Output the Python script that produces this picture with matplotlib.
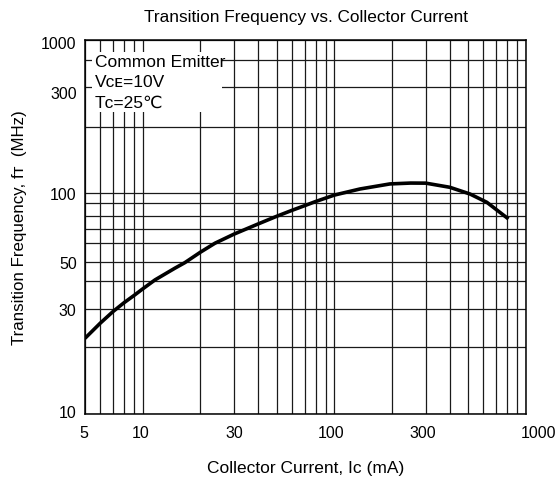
import numpy as np
import matplotlib
matplotlib.use("Agg")
import matplotlib.pyplot as plt
from matplotlib.patches import Rectangle
from matplotlib.ticker import FixedLocator, NullFormatter
from matplotlib.transforms import ScaledTranslation

plt.rcParams['font.family'] = ['Liberation Sans', 'DejaVu Sans']

# Collector current (mA) and transition frequency (MHz).
ic = [5, 6, 7, 8, 9, 10, 11.6, 14.75, 16.6, 20, 23.85, 30, 40, 50, 60, 70,
      80, 100, 136, 195, 250, 300, 400, 510, 625, 810]
ft = [22.0, 25.8, 29.2, 32.0, 34.4, 36.8, 40.4, 46.6, 49.8, 55.0, 59.9, 66.2,
      73.8, 80, 84.4, 88.1, 91.7, 97.9, 104.3, 110, 111, 110.9, 106.2, 99,
      90.9, 77.8]

x_major = [5, 10, 30, 100, 300, 1000]
x_minor = [6, 7, 8, 9, 20, 40, 50, 60, 70, 80, 90,
           200, 400, 500, 600, 700, 800, 900]
y_major = [10, 30, 50, 100, 300, 1000]
y_minor = [20, 40, 60, 70, 80, 90, 200, 500]

note_lines = ["Common Emitter", "Vᴄᴇ=10V", "Tᴄ=25℃"]

# The datasheet's y grid is not evenly logarithmic (top decade squeezed),
# so map log10(f) piecewise onto the drawn grid heights.
grid_vals = [10, 20, 30, 40, 50, 60, 70, 80, 90, 100, 200, 300, 500, 1000]
grid_h = [0, 66.7, 105, 133.3, 151.7, 171, 185, 197.7, 210.7, 221,
          287, 327, 354, 374]
logs = np.log10(grid_vals)
hs = np.array(grid_h)


def fwd(y):
    y = np.asarray(y, dtype=float)
    with np.errstate(divide='ignore', invalid='ignore'):
        ly = np.log10(np.where(y > 0, y, 1e-12))
    return np.interp(ly, logs, hs, left=-1000, right=1400)


def inv(h):
    return 10 ** np.interp(np.asarray(h, dtype=float), hs, logs)


fig = plt.figure(figsize=(5.58, 4.81), dpi=100)
ax = fig.add_axes([85 / 558, 66 / 481, 441 / 558, 374 / 481])

ax.set_xscale('log')
ax.set_yscale('function', functions=(fwd, inv))
ax.set_xlim(5, 1000)
ax.set_ylim(10, 1000)

ax.xaxis.set_major_locator(FixedLocator(x_major))
ax.xaxis.set_minor_locator(FixedLocator(x_minor))
ax.yaxis.set_major_locator(FixedLocator(y_major))
ax.yaxis.set_minor_locator(FixedLocator(y_minor))
ax.set_xticklabels([str(v) for v in x_major])
ax.set_yticklabels([str(v) for v in y_major])
ax.xaxis.set_minor_formatter(NullFormatter())
ax.yaxis.set_minor_formatter(NullFormatter())
ax.tick_params(which='both', length=0, labelsize=11.5)
ax.tick_params(axis='x', pad=8)
ax.tick_params(axis='y', pad=6)


# Nudge a few labels the way the datasheet has them.
def nudge(label, dx, dy):
    label.set_transform(label.get_transform()
                        + ScaledTranslation(dx / 100, dy / 100, fig.dpi_scale_trans))


xl = ax.get_xticklabels()
nudge(xl[-1], 13, 0)
for lab, dx in zip(xl[:-1], [-1, -2, 0, -3, -3]):
    nudge(lab, dx, 0)
yl = ax.get_yticklabels()
nudge(yl[0], 0, 3)
nudge(yl[4], 0, -5)
nudge(yl[5], 0, -2)

ax.grid(True, which='both', color='#1a1a1a', linewidth=0.9, zorder=1)
ax.set_axisbelow(True)
for s in ax.spines.values():
    s.set_linewidth(1.1)
    s.set_color('black')

ax.plot(ic, ft, color='black', linewidth=2.6, solid_capstyle='butt',
        solid_joinstyle='round', zorder=3)

# White patch behind the condition note, hiding the grid there.
ax.add_patch(Rectangle((0.016, 0.8075), 0.295, 0.1605, transform=ax.transAxes,
                       facecolor='white', edgecolor='none', zorder=2))
for i, line in enumerate(note_lines):
    ax.text(0.0227, 0.9305 - i * 0.0548, line, transform=ax.transAxes,
            ha='left', va='baseline', fontsize=12.5, zorder=4)

ax.set_title("Transition Frequency vs. Collector Current", fontsize=12.4, pad=14)
ax.set_xlabel("Collector Current, Iᴄ (mA)", fontsize=12.5, labelpad=14)
ax.set_ylabel("Transition Frequency, fᴛ  (MHz)", fontsize=12.2, labelpad=10)

fig.savefig('out.png', dpi=100)
